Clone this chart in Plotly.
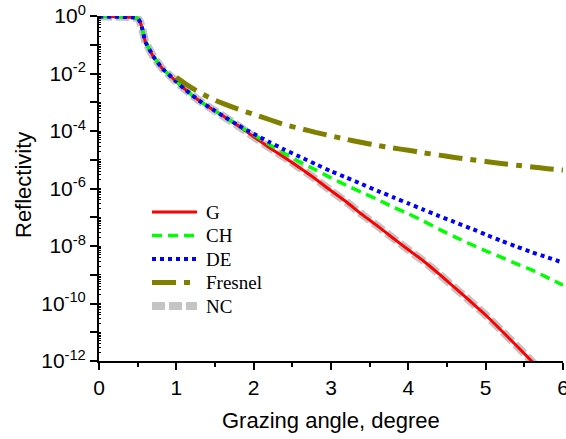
import numpy as np
import plotly.graph_objects as go

# Grazing angle (degrees) and log10 of reflectivity for each model
x_main = [0.0, 0.1, 0.2, 0.3, 0.4, 0.45, 0.5, 0.53, 0.56, 0.6, 0.65, 0.7, 0.76, 0.82,
          0.9, 1.0, 1.1, 1.2, 1.3, 1.4, 1.5, 1.6]
logR_main = [-0.02, -0.02, -0.025, -0.03, -0.04, -0.05, -0.08, -0.2, -0.45, -0.9, -1.15,
             -1.4, -1.62, -1.83, -2.03, -2.28, -2.52, -2.75, -2.95, -3.13, -3.3, -3.47]

x_tail_g = [1.8, 2.0, 2.2, 2.4, 2.6, 2.8, 3.0, 3.2, 3.4, 3.6, 3.8, 4.0, 4.2, 4.4, 4.6,
            4.8, 5.0, 5.2, 5.4, 5.6, 5.65]
logR_tail_g = [-3.82, -4.2, -4.57, -4.92, -5.29, -5.67, -6.08, -6.47, -6.9, -7.3, -7.72,
               -8.13, -8.53, -8.98, -9.45, -9.92, -10.4, -10.93, -11.47, -12.02, -12.15]

x_tail = [1.8, 2.0, 2.2, 2.4, 2.6, 2.8, 3.0, 3.2, 3.4, 3.6, 3.8, 4.0, 4.2, 4.4, 4.6,
          4.8, 5.0, 5.2, 5.4, 5.6, 5.8, 6.0]
logR_tail_ch = [-3.81, -4.13, -4.47, -4.78, -5.08, -5.35, -5.63, -5.89, -6.14, -6.38, -6.64,
                -6.88, -7.14, -7.42, -7.68, -7.93, -8.17, -8.39, -8.62, -8.84, -9.1, -9.36]
logR_tail_de = [-3.8, -4.1, -4.38, -4.65, -4.9, -5.15, -5.4, -5.62, -5.85, -6.08, -6.3,
                -6.52, -6.74, -6.96, -7.17, -7.38, -7.6, -7.82, -8.02, -8.22, -8.4, -8.58]

x_fresnel = [1.0, 1.1, 1.2, 1.3, 1.4, 1.5, 1.6, 1.8, 2.0, 2.2, 2.4, 2.6, 2.8, 3.0, 3.2,
             3.4, 3.6, 3.8, 4.0, 4.2, 4.4, 4.6, 4.8, 5.0, 5.2, 5.4, 5.6, 5.8, 6.0]
logR_fresnel = [-2.13, -2.32, -2.5, -2.66, -2.8, -2.93, -3.04, -3.24, -3.42, -3.6, -3.78,
                -3.91, -4.05, -4.17, -4.29, -4.4, -4.5, -4.59, -4.67, -4.76, -4.84, -4.92,
                -4.99, -5.06, -5.13, -5.19, -5.25, -5.31, -5.36]

y_tick_exp = [0, -1, -2, -3, -4, -5, -6, -7, -8, -9, -10, -11, -12]
x_tick_vals = [0, 1, 2, 3, 4, 5, 6]
legend_order = ["G", "CH", "DE", "Fresnel", "NC"]


def curve(xs_a, ys_a, xs_b, ys_b):
    xs = list(xs_a) + list(xs_b)
    ys = 10.0 ** np.array(list(ys_a) + list(ys_b))
    return xs, ys


x_g, r_g = curve(x_main, logR_main, x_tail_g, logR_tail_g)
x_ch, r_ch = curve(x_main, logR_main, x_tail, logR_tail_ch)
x_de, r_de = curve(x_main, logR_main, x_tail, logR_tail_de)
x_nc, r_nc = x_g, r_g
r_fr = 10.0 ** np.array(logR_fresnel)

# plot area in pixels (for placing the hand-made legend and titles)
W, H = 566, 439
ML, MR, MT, MB = 99, 3, 16, 78
PW, PH = W - ML - MR, H - MT - MB


def px_x(px):
    return (px - ML) / PW


def px_y(py):
    return (H - MB - py) / PH


styles = {
    "NC": dict(color="#c4c4c4", width=8, dash="13px,4px"),
    "G": dict(color="#ff0000", width=3, dash="solid"),
    "CH": dict(color="#00ff00", width=3.5, dash="10px,6px"),
    "DE": dict(color="#0000ff", width=4, dash="4px,4px"),
    "Fresnel": dict(color="#808000", width=5, dash="24px,8px,6px,8px"),
}
data = {
    "NC": (x_nc, r_nc),
    "G": (x_g, r_g),
    "CH": (x_ch, r_ch),
    "DE": (x_de, r_de),
    "Fresnel": (x_fresnel, r_fr),
}

fig = go.Figure()
# drawing order: NC at the bottom, Fresnel on top
for name in ["NC", "G", "CH", "DE", "Fresnel"]:
    xs, ys = data[name]
    st = styles[name]
    fig.add_trace(go.Scatter(
        x=xs, y=ys, mode="lines", name=name, showlegend=False,
        line=dict(color=st["color"], width=st["width"], dash=st["dash"],
                  shape="spline", smoothing=0.5),
    ))

# legend: sample line + label for each series
shapes, annotations = [], []
row0, row_step = 212, 23.5
for i, name in enumerate(legend_order):
    st = styles[name]
    yy = px_y(row0 + i * row_step)
    shapes.append(dict(type="line", xref="paper", yref="paper",
                       x0=px_x(152), x1=px_x(197), y0=yy, y1=yy,
                       line=dict(color=st["color"], width=st["width"], dash=st["dash"])))
    annotations.append(dict(text=name, xref="paper", yref="paper",
                            x=px_x(204), y=yy, xanchor="left", yanchor="middle",
                            showarrow=False,
                            font=dict(family="Liberation Serif, Times New Roman",
                                      size=19, color="black")))

annotations += [
    dict(text="Grazing angle, degree", xref="paper", yref="paper",
         x=0.5, y=px_y(420), xanchor="center", yanchor="middle",
         showarrow=False, font=dict(size=22)),
    dict(text="Reflectivity", xref="paper", yref="paper", textangle=-90,
         x=px_x(23), y=px_y(185), xanchor="center", yanchor="middle",
         showarrow=False, font=dict(size=22)),
]

tick_text = [("10<sup>%d</sup>" % e) if e % 2 == 0 else "" for e in y_tick_exp]

fig.update_layout(
    width=W, height=H,
    margin=dict(l=ML, r=MR, t=MT, b=MB, autoexpand=False),
    paper_bgcolor="white", plot_bgcolor="white",
    font=dict(family="Liberation Sans, Arial", color="black"),
    showlegend=False,
    xaxis=dict(
        range=[0, 6], showgrid=False, zeroline=False, automargin=False,
        showline=True, linecolor="black", linewidth=2,
        tickmode="array", tickvals=x_tick_vals, ticklabeloverflow="allow",
        ticks="outside", ticklen=7, tickwidth=2, tickcolor="black",
        tickfont=dict(size=21),
        minor=dict(ticks="outside", ticklen=4, tickwidth=2, tickcolor="black", dtick=0.5),
    ),
    yaxis=dict(
        type="log", range=[-12, 0], showgrid=False, zeroline=False, automargin=False,
        showline=True, linecolor="black", linewidth=2,
        tickmode="array", tickvals=[10.0 ** e for e in y_tick_exp], ticktext=tick_text,
        ticklabeloverflow="allow",
        ticks="outside", ticklen=7, tickwidth=2, tickcolor="black",
        tickfont=dict(size=21),
        minor=dict(ticks="inside", ticklen=2, tickwidth=1, tickcolor="black", dtick="D1"),
    ),
    shapes=shapes,
    annotations=annotations,
)

fig.write_html("out.html")
